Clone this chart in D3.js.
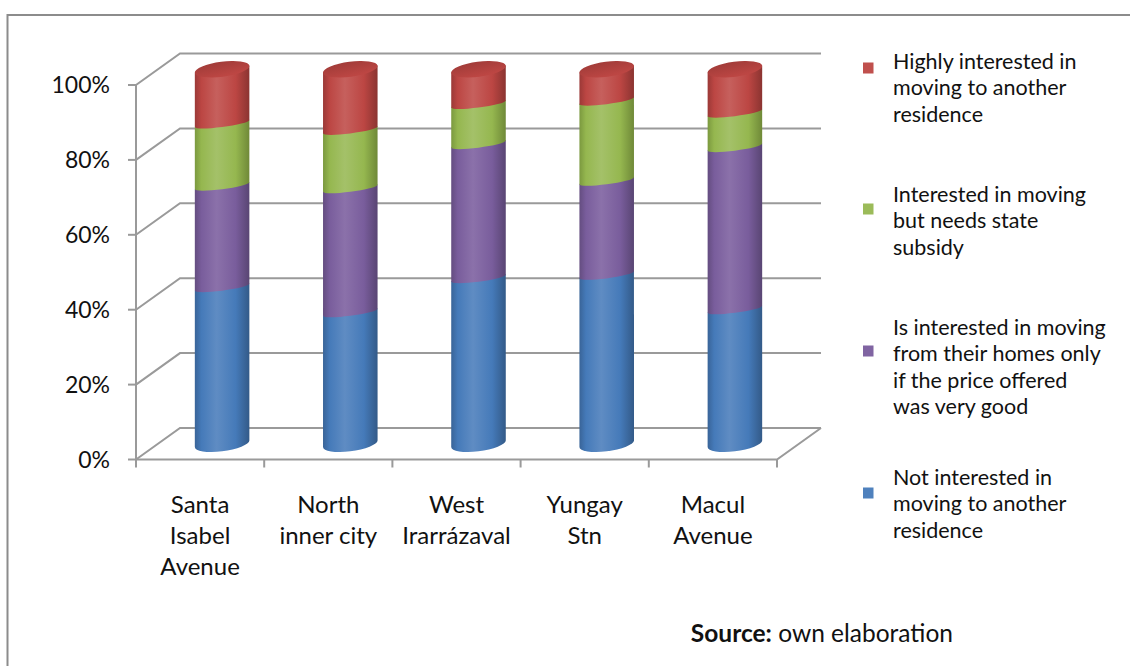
<!DOCTYPE html>
<html><head><meta charset="utf-8">
<script src="https://cdn.jsdelivr.net/npm/d3@7"></script>
<style>html,body{margin:0;padding:0;background:#fff;overflow:hidden}</style>
</head><body>
<svg id="chart" width="1130" height="666"></svg>
<script>
// ---- data ----
const categories = [["Santa","Isabel","Avenue"],["North","inner city"],["West","Irarrázaval"],["Yungay","Stn"],["Macul","Avenue"]];
const seriesNames = ["Not interested in moving to another residence","Is interested in moving from their homes only if the price offered was very good","Interested in moving but needs state subsidy","Highly interested in moving to another residence"];
const notInterested = [41.8, 35.1, 44.2, 45.1, 35.9];
const priceGood     = [27.1, 33.1, 35.8, 25.1, 43.3];
const needsSubsidy  = [16.6, 15.6, 10.7, 21.4, 9.2];
const highlyInterested = [14.5, 16.2, 9.3, 8.4, 11.6];
const tickValues = [0, 20, 40, 60, 80, 100];
const tickLabels = ["0%","20%","40%","60%","80%","100%"];
const legendLines = [
  ["Highly interested in","moving to another","residence"],
  ["Interested in moving","but needs state","subsidy"],
  ["Is interested in moving","from their homes only","if the price offered","was very good"],
  ["Not interested in","moving to another","residence"]
];
const sourceBold = "Source:";
const sourceText = " own elaboration";

// ---- layout ----
const svg = d3.select("#chart");
const FONT = "Lato, 'Open Sans', sans-serif";
const colors = ["#4F81BD","#8064A2","#9BBB59","#C0504D"];
const DX = 44, DY = -31.5;
const y = d3.scaleLinear().domain([0,100]).range([459.5, 85]);
const x = d3.scaleBand().domain(d3.range(categories.length)).range([136, 777]);
const gridColor = "#9a9a9a";

// frame
svg.append("rect").attr("x",7.5).attr("y",15).attr("width",1200).attr("height",700)
  .attr("fill","none").attr("stroke","#8c8c8c").attr("stroke-width",2);

const defs = svg.append("defs");
function shade(c,k){ const h = d3.hsl(c); h.l = Math.min(1,h.l*k); return h.formatHex(); }
colors.forEach((c,i)=>{
  const g = defs.append("linearGradient").attr("id","g"+i).attr("x1",0).attr("x2",1).attr("y1",0).attr("y2",0);
  g.append("stop").attr("offset",0).attr("stop-color",shade(c,0.78));
  g.append("stop").attr("offset",0.12).attr("stop-color",shade(c,0.95));
  g.append("stop").attr("offset",0.4).attr("stop-color",shade(c,1.08));
  g.append("stop").attr("offset",0.75).attr("stop-color",shade(c,0.95));
  g.append("stop").attr("offset",1).attr("stop-color",shade(c,0.7));
});
const capG = defs.append("linearGradient").attr("id","cap").attr("x1",0).attr("x2",0.3).attr("y1",0).attr("y2",1);
capG.append("stop").attr("offset",0).attr("stop-color",shade(colors[3],0.8));
capG.append("stop").attr("offset",1).attr("stop-color",shade(colors[3],0.95));

// walls / gridlines
const grid = svg.append("g").attr("stroke",gridColor).attr("stroke-width",2).attr("fill","none");
tickValues.forEach(v=>{
  grid.append("path").attr("d",`M${x.range()[0]},${y(v)}L${x.range()[0]+DX},${y(v)+DY}L${x.range()[1]+DX},${y(v)+DY}`);
});
grid.append("path").attr("d",`M${x.range()[0]},${y(0)}L${x.range()[1]},${y(0)}L${x.range()[1]+DX},${y(0)+DY}`);
grid.append("path").attr("d",`M${x.range()[0]},${y(100)}L${x.range()[0]},${y(0)}`);
tickValues.forEach(v=>grid.append("path").attr("d",`M${x.range()[0]-8},${y(v)}L${x.range()[0]},${y(v)}`));
d3.range(categories.length+1).forEach(i=>{
  const xx = x.range()[0] + i*x.step();
  grid.append("path").attr("d",`M${xx},${y(0)}L${xx},${y(0)+8}`);
});

// y labels
svg.append("g").selectAll("text").data(tickValues).join("text")
  .attr("x",110).attr("y",d=>y(d)).attr("dy","0.35em").attr("text-anchor","end")
  .attr("font-family",FONT).attr("font-size",23).attr("fill","#111")
  .text((d,i)=>tickLabels[i]);

// cylinders
const RX = 27.5, RY = 3.5, RYCAP = 7.5, TH = -7.5*Math.PI/180;
function tangent(rx, ry){
  const t0 = Math.atan(-ry*Math.tan(TH)/rx);
  const X = rx*Math.cos(t0)*Math.cos(TH) - ry*Math.sin(t0)*Math.sin(TH);
  const Y = rx*Math.cos(t0)*Math.sin(TH) + ry*Math.sin(t0)*Math.cos(TH);
  return [Math.abs(X), X<0 ? -Y : Y];
}
const deg = TH*180/Math.PI;
const stack = [notInterested, priceGood, needsSubsidy, highlyInterested];
const bars = svg.append("g");
categories.forEach((c,ci)=>{
  const cx = x(ci) + x.bandwidth()/2 + DX/2;
  let cum = 0;
  stack.forEach((arr,si)=>{
    const v0 = cum, v1 = cum + arr[ci]; cum = v1;
    const yb = y(v0) + DY/2, yt = y(v1) + DY/2;
    const ryb = si===0 ? RYCAP : RY;
    const [Xb,Yb] = tangent(RX, ryb);
    const [Xt,Yt] = tangent(RX, RY);
    const d = `M${cx-Xb},${yb-Yb}A${RX},${ryb},${deg},0,0,${cx+Xb},${yb+Yb}` +
              `L${cx+Xt},${yt+Yt}A${RX},${RY},${deg},0,0,${cx-Xt},${yt-Yt}Z`;
    bars.append("path").attr("d",d).attr("fill",`url(#g${si})`);
  });
  bars.append("ellipse").attr("cx",cx).attr("cy",y(cum)+DY/2).attr("rx",RX).attr("ry",RYCAP)
    .attr("transform",`rotate(${deg},${cx},${y(cum)+DY/2})`).attr("fill","url(#cap)");
});

// category labels
const cat = svg.append("g").attr("font-family",FONT).attr("font-size",24).attr("fill","#111").attr("text-anchor","middle");
categories.forEach((lines,ci)=>{
  const t = cat.append("text").attr("x", x(ci)+x.bandwidth()/2).attr("y",505);
  lines.forEach((l,li)=>t.append("tspan").attr("x",x(ci)+x.bandwidth()/2).attr("y",505+li*31).attr("dy","0.35em").text(l));
});

// legend (top to bottom: reversed series)
const legendY = [61, 194, 327, 477];
const swatchOff = [7, 15, 24, 16];
const legendColors = [colors[3], colors[2], colors[1], colors[0]];
const lg = svg.append("g").attr("font-family",FONT).attr("font-size",21.5).attr("fill","#111");
legendLines.forEach((lines,i)=>{
  lg.append("rect").attr("x",863).attr("y",legendY[i]+swatchOff[i]-5.5).attr("width",10.5).attr("height",11).attr("fill",legendColors[i]);
  const t = lg.append("text").attr("x",893).attr("y",legendY[i]);
  lines.forEach((l,li)=>t.append("tspan").attr("x",893).attr("y",legendY[i]+li*26.5).attr("dy","0.35em").text(l));
});

// source
const src = svg.append("text").attr("x",953).attr("y",642).attr("text-anchor","end")
  .attr("font-family",FONT).attr("font-size",24.5).attr("fill","#111");
src.append("tspan").attr("font-weight","bold").text(sourceBold);
src.append("tspan").text(sourceText);
</script>
</body></html>
